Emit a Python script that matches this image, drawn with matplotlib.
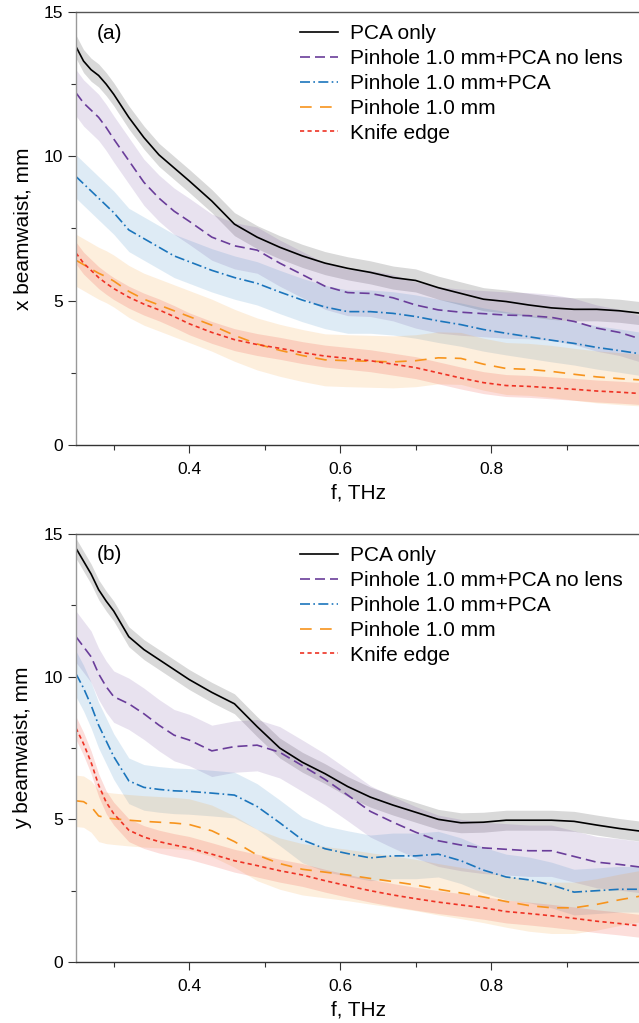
import numpy as np
import matplotlib
matplotlib.use("Agg")
import matplotlib.pyplot as plt

plt.rcParams['font.family'] = ['Liberation Sans', 'DejaVu Sans']

# frequency grid, THz
freq = [0.25, 0.26, 0.27, 0.28, 0.29, 0.30, 0.32, 0.34, 0.36, 0.38, 0.40,
        0.43, 0.46, 0.49, 0.52, 0.55, 0.58, 0.61, 0.64, 0.67, 0.70, 0.73,
        0.76, 0.79, 0.82, 0.85, 0.88, 0.91, 0.94, 0.97, 1.00]

labels = ["PCA only", "Pinhole 1.0 mm+PCA no lens", "Pinhole 1.0 mm+PCA",
          "Pinhole 1.0 mm", "Knife edge"]

# x beamwaist, mm
x_pca = [13.8, 13.3, 13.0, 12.8, 12.5, 12.15, 11.35, 10.65, 10.05, 9.6, 9.15,
         8.45, 7.65, 7.2, 6.85, 6.55, 6.3, 6.12, 5.98, 5.8, 5.7, 5.45,
         5.25, 5.05, 4.97, 4.85, 4.75, 4.7, 4.7, 4.65, 4.56]
x_pin_pca_nolens = [12.2, 11.85, 11.6, 11.35, 11.0, 10.6, 9.85, 9.1, 8.55, 8.1, 7.75,
                    7.2, 6.9, 6.75, 6.3, 5.9, 5.5, 5.28, 5.25, 5.1, 4.85, 4.68,
                    4.6, 4.55, 4.5, 4.48, 4.42, 4.28, 4.05, 3.9, 3.66]
x_pin_pca = [9.3, 9.05, 8.8, 8.55, 8.3, 8.05, 7.45, 7.15, 6.85, 6.55, 6.35,
             6.05, 5.8, 5.6, 5.3, 5.02, 4.78, 4.62, 4.62, 4.56, 4.45, 4.3,
             4.17, 4.0, 3.87, 3.75, 3.63, 3.52, 3.38, 3.27, 3.15]
x_pin = [6.4, 6.25, 6.1, 5.95, 5.83, 5.68, 5.32, 5.05, 4.85, 4.65, 4.45,
         4.15, 3.8, 3.5, 3.28, 3.1, 2.95, 2.92, 2.9, 2.88, 2.92, 3.02,
         3.0, 2.8, 2.65, 2.62, 2.55, 2.45, 2.36, 2.3, 2.25]
x_knife = [6.65, 6.3, 6.05, 5.8, 5.6, 5.42, 5.12, 4.88, 4.68, 4.45, 4.2,
           3.9, 3.65, 3.48, 3.35, 3.2, 3.08, 3.0, 2.92, 2.8, 2.68, 2.5,
           2.32, 2.16, 2.06, 2.03, 1.98, 1.93, 1.87, 1.83, 1.78]
x_spread = [0.4, 0.8, 0.75, 0.9, 0.38]

# y beamwaist, mm
y_pca = [14.5, 14.05, 13.6, 13.05, 12.65, 12.3, 11.4, 10.95, 10.6, 10.25, 9.9,
         9.45, 9.05, 8.25, 7.5, 7.0, 6.6, 6.15, 5.78, 5.5, 5.25, 5.0,
         4.88, 4.9, 4.97, 4.97, 4.97, 4.93, 4.8, 4.68, 4.58]
y_pin_pca_nolens = [11.4, 11.05, 10.7, 10.1, 9.65, 9.3, 9.05, 8.7, 8.3, 7.95, 7.78,
                    7.4, 7.55, 7.6, 7.35, 6.88, 6.4, 5.85, 5.28, 4.9, 4.55, 4.25,
                    4.1, 4.0, 3.95, 3.9, 3.9, 3.7, 3.5, 3.42, 3.32]
y_pin_pca = [10.1, 9.6, 9.0, 8.3, 7.75, 7.2, 6.35, 6.12, 6.05, 6.0, 5.98,
             5.92, 5.85, 5.45, 4.88, 4.28, 3.97, 3.8, 3.65, 3.72, 3.72, 3.78,
             3.55, 3.22, 2.98, 2.88, 2.7, 2.45, 2.5, 2.55, 2.55]
y_pin = [5.65, 5.62, 5.45, 5.12, 5.05, 5.02, 4.97, 4.93, 4.9, 4.87, 4.82,
         4.6, 4.22, 3.75, 3.45, 3.25, 3.15, 3.05, 2.93, 2.82, 2.7, 2.55,
         2.42, 2.28, 2.12, 1.98, 1.9, 1.9, 2.02, 2.18, 2.32]
y_knife = [8.2, 7.65, 7.0, 6.2, 5.6, 5.2, 4.62, 4.38, 4.22, 4.1, 4.0,
           3.78, 3.55, 3.38, 3.2, 3.05, 2.85, 2.67, 2.5, 2.35, 2.22, 2.1,
           2.0, 1.9, 1.77, 1.7, 1.62, 1.53, 1.43, 1.35, 1.26]
y_spread = [0.35, 0.9, 0.8, 0.9, 0.4]

colors = ["#000000", "#6a3d9a", "#1b75bc", "#f7941d", "#ee3224"]
fill_alpha = [0.15, 0.15, 0.14, 0.15, 0.16]
styles = ["-", (0, (6, 3)), (0, (6, 2, 1, 2)), (0, (7, 5)), (0, (2.5, 2))]


def draw_panel(ax, series, spread, ylabel, tag):
    f = np.array(freq)
    for vals, s, c, a in zip(series, spread, colors, fill_alpha):
        v = np.array(vals)
        ax.fill_between(f, v - s, v + s, color=c, alpha=a, lw=0)
    for vals, c, ls, lab in zip(series, colors, styles, labels):
        ax.plot(f, vals, color=c, ls=ls, lw=1.2, label=lab)

    ax.set_xlim(0.25, 1.0)
    ax.set_ylim(0, 15)
    ax.set_xticks([0.4, 0.6, 0.8, 1.0])
    ax.set_xticklabels(["0.4", "0.6", "0.8", "1"])
    ax.set_xticks([0.3, 0.5, 0.7, 0.9], minor=True)
    ax.set_yticks([0, 5, 10, 15])
    ax.set_yticks([2.5, 7.5, 12.5], minor=True)
    ax.tick_params(which='major', direction='out', length=6, width=0.8,
                   labelsize=12.5, color='#333333')
    ax.tick_params(which='minor', direction='out', length=3.5, width=0.8,
                   color='#333333')
    ax.tick_params(axis='x', pad=6)
    ax.spines['left'].set_color('#999999')
    ax.spines['bottom'].set_color('#333333')
    ax.spines['top'].set_color('#555555')
    ax.spines['right'].set_visible(False)
    for sp in ax.spines.values():
        sp.set_linewidth(1.0)

    ax.set_xlabel("f, THz", fontsize=15, labelpad=5)
    ax.set_ylabel(ylabel, fontsize=15, labelpad=8)
    ax.text(0.036, 0.951, tag, transform=ax.transAxes, fontsize=15,
            ha='left', va='center')
    ax.legend(loc='upper left', bbox_to_anchor=(0.389, 0.981), frameon=False,
              fontsize=15, handlelength=1.8, handletextpad=0.58,
              labelspacing=0.28, borderaxespad=0, borderpad=0.2)


fig = plt.figure(figsize=(6.39, 10.23), dpi=100)
ax1 = fig.add_axes([0.1189, 0.565, 0.8858, 0.4233])
ax2 = fig.add_axes([0.1189, 0.0596, 0.8858, 0.4184])

draw_panel(ax1, [x_pca, x_pin_pca_nolens, x_pin_pca, x_pin, x_knife],
           x_spread, "x beamwaist, mm", "(a)")
draw_panel(ax2, [y_pca, y_pin_pca_nolens, y_pin_pca, y_pin, y_knife],
           y_spread, "y beamwaist, mm", "(b)")

fig.savefig("out.png", dpi=100)
